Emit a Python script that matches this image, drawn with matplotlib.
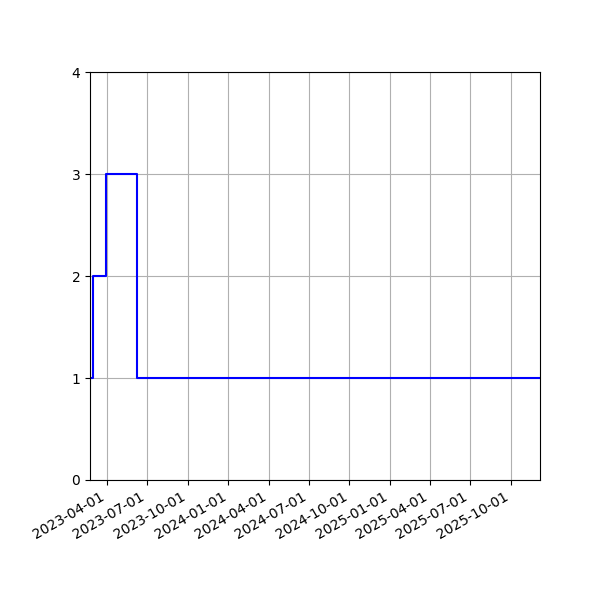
import matplotlib
matplotlib.use("Agg")
import matplotlib.pyplot as plt
import matplotlib.dates as mdates
import numpy as np

# change points (date, value) - step holds until next date
dates = ["2023-02-22", "2023-03-01", "2023-03-30", "2023-06-09", "2025-12-06"]
values = [1, 2, 3, 1, 1]

x = np.array(dates, dtype="datetime64[D]")

fig, ax = plt.subplots(figsize=(6, 6), dpi=100)
ax.step(x, values, where="post", color="b")
ax.set_xlim(x[0], x[-1])
ax.set_ylim(0, 4)
ax.set_yticks([0, 1, 2, 3, 4])
ax.xaxis.set_major_locator(mdates.MonthLocator(bymonth=[1, 4, 7, 10]))
ax.xaxis.set_major_formatter(mdates.DateFormatter("%Y-%m-%d"))
ax.grid(True)
fig.autofmt_xdate()
fig.subplots_adjust(left=0.15, right=0.9, top=0.88, bottom=0.2)
fig.savefig("out.png")
